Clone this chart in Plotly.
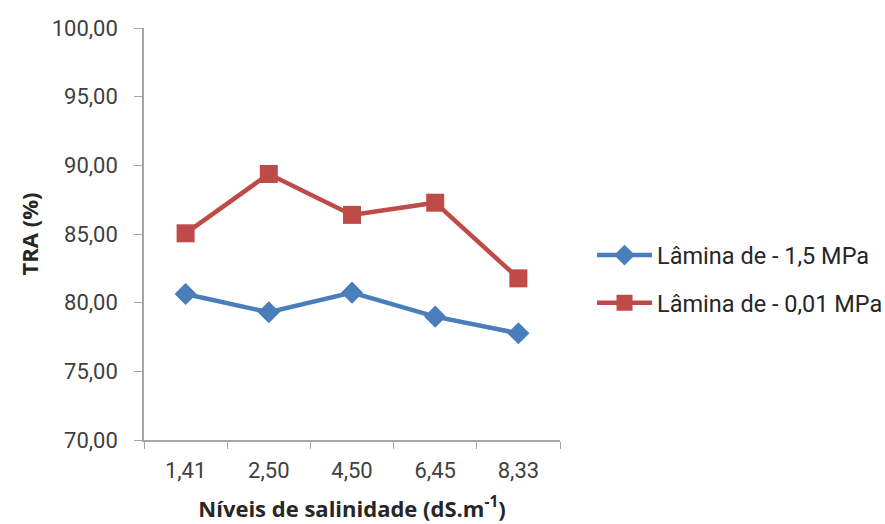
import plotly.graph_objects as go

# Salinity levels (dS/m) and TRA (%) for two irrigation depths
salinity = ["1,41", "2,50", "4,50", "6,45", "8,33"]
tra_15mpa = [80.63, 79.30, 80.73, 78.98, 77.77]
tra_001mpa = [85.05, 89.37, 86.39, 87.28, 81.77]

fig = go.Figure()
fig.add_trace(go.Scatter(
    x=salinity, y=tra_15mpa, mode="lines+markers",
    name="Lâmina de - 1,5 MPa", legendgroup="a",
    line=dict(color="#4A7EBB", width=4.5),
    marker=dict(symbol="diamond", size=17, color="#4A7EBB"),
))
fig.add_trace(go.Scatter(
    x=salinity, y=tra_001mpa, mode="lines+markers",
    name="Lâmina de - 0,01 MPa", legendgroup="b",
    line=dict(color="#BE4B48", width=4.5),
    marker=dict(symbol="square", size=18, color="#BE4B48"),
))

axis_color = "#A6A6A6"
title_font = dict(family="Open Sans", size=22, color="#262626", weight="bold")
tick_font = dict(family="Roboto", size=22, color="#404040")

fig.update_layout(
    width=885, height=524,
    margin=dict(l=144, r=325, t=28, b=84, autoexpand=False),
    paper_bgcolor="white", plot_bgcolor="white",
    separators=", ",
    font=dict(family="Roboto", color="#404040", size=20),
    showlegend=True,
    legend=dict(
        x=1.077, y=0.39, xanchor="left", yanchor="middle",
        font=dict(family="Roboto", size=23.5, color="#262626"),
        tracegroupgap=14, itemwidth=55, bgcolor="rgba(0,0,0,0)",
    ),
    xaxis=dict(
        type="category", tickson="boundaries", automargin=False,
        range=[-0.5, 4.5],
        showline=True, linecolor=axis_color, linewidth=1.5,
        ticks="outside", ticklen=7, tickcolor=axis_color,
        ticklabelstandoff=10,
        showgrid=False, zeroline=False,
        tickfont=tick_font,
        title=dict(text="Níveis de salinidade (dS.m<sup>-1</sup>)",
                   font=title_font, standoff=19),
    ),
    yaxis=dict(
        range=[70, 100], dtick=5, tickformat=".2f", automargin=False,
        showline=True, linecolor=axis_color, linewidth=1.5,
        ticks="outside", ticklen=8, tickcolor=axis_color,
        ticklabelstandoff=12,
        showgrid=False, zeroline=False,
        tickfont=tick_font,
        title=dict(text="TRA (%)", font=title_font, standoff=7),
    ),
)

fig.write_html("out.html")
